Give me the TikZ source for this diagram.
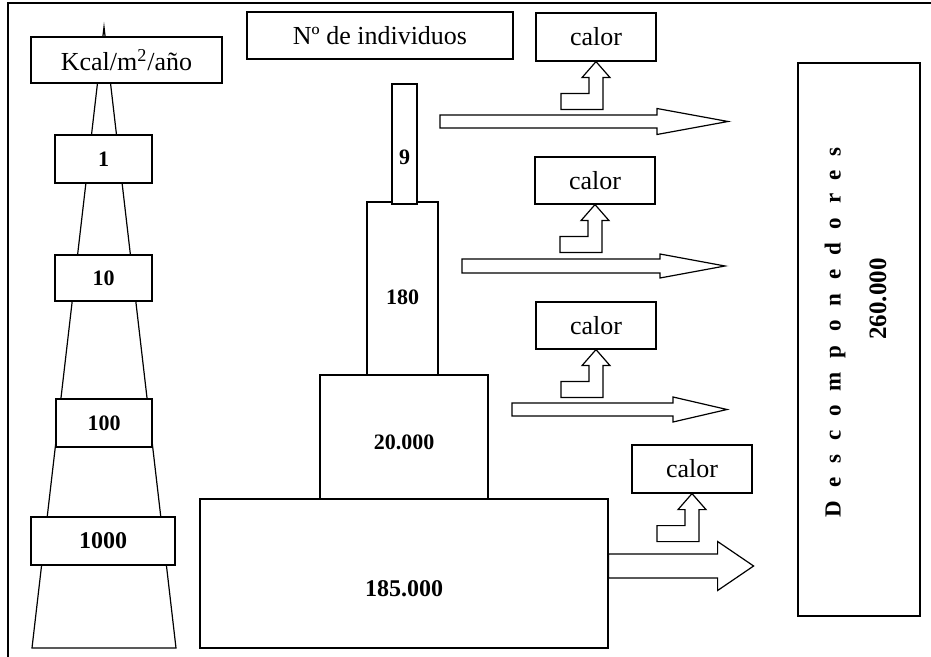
\documentclass[tikz,border=0pt]{standalone}
\usepackage{fontspec}
\setmainfont{Liberation Serif}
\newfontfamily\spacedfont[LetterSpace=60]{Liberation Serif}
\usepackage{tikz}
\usetikzlibrary{calc}

% block arrow: tail, length, half shaft, half head, head length
\newcommand{\flowarrow}[5]{%
  \draw[fill=white] (#1) -- ++(0,-#3) -- ++({#2-#5},0) -- ++(0,{#3-#4}) -- ++(#5,#4) -- ++(-#5,#4) -- ++(0,{#3-#4}) -- ++({#5-#2},0) -- cycle;}
% bent arrow up into a heat box
\newcommand{\heatarrow}[1]{%
  \draw[fill=white] (#1) -- ++(14,16) -- ++(-7,0) -- ++(0,32) -- ++(-42,0) -- ++(0,-16) -- ++(28,0) -- ++(0,-16) -- ++(-7,0) -- cycle;}

\begin{document}
\begin{tikzpicture}[x=0.5pt, y=-0.5pt, line width=0.6pt,
    box/.style={draw, fill=white, inner sep=1pt},
    txt/.style={font=\fontsize{13}{15}\selectfont},
    num/.style={font=\bfseries\fontsize{11}{13}\selectfont}]
        \useasboundingbox (0,0) rectangle (931,657);
        % Frame
        \draw (8,657) -- (8,3) -- (931,3);

        % Energy pyramid
        \draw (104,27) -- (32,648) -- (176,648) -- cycle;
        \node[box, txt, minimum width=95.5pt, minimum height=23pt] (kcal) at (126.5,60) {Kcal/m\textsuperscript{2}/año};
        \node[box, num, minimum width=48.5pt, minimum height=24pt] (e1) at (103.5,159) {1};
        \node[box, num, minimum width=48.5pt, minimum height=23pt] (e10) at (103.5,278) {10};
        \node[box, num, minimum width=48pt, minimum height=24pt] (e100) at (104,423) {100};
        \node[box, num, font=\bfseries\fontsize{12}{14}\selectfont, minimum width=72pt, minimum height=24pt] (e1000) at (103,541) {1000};

        % Numbers pyramid
        \node[box, txt, minimum width=133pt, minimum height=23.5pt] (ind) at (380,35.5) {Nº de individuos};
        \node[box, num, font=\bfseries\fontsize{12}{14}\selectfont, text height=23pt, text depth=0pt, minimum width=204pt, minimum height=74.5pt] (p185k) at (404,573.5) {185.000};
        \node[box, num, text height=12pt, text depth=0pt, minimum width=84pt, minimum height=62pt] (p20k) at (404,437) {20.000};
        \node[box, num, text height=16pt, text depth=0pt, minimum width=35.5pt, minimum height=86.5pt] (p180) at (402.5,288.5) {180};
        \node[box, num, text height=21pt, text depth=0pt, inner sep=0pt, minimum width=12.5pt, minimum height=60pt] (p9) at (404.5,144) {9};

        % Decomposers
        \node[box, minimum width=61pt, minimum height=276.5pt] (desc) at (859,339.5) {};
        \node[rotate=90, font=\spacedfont\bfseries\fontsize{11.5}{13}\selectfont] (desctxt) at (835,332.5) {Descomponedores};
        \node[rotate=90, font=\bfseries\fontsize{12.5}{14}\selectfont] (desnum) at (878,299) {260.000};

        % Heat boxes
        \node[box, txt, minimum width=60pt, minimum height=24pt] (calor1) at (596,37) {calor};
        \node[box, txt, minimum width=60pt, minimum height=23.5pt] (calor2) at (595,180.5) {calor};
        \node[box, txt, minimum width=60pt, minimum height=23.5pt] (calor3) at (596,325.5) {calor};
        \node[box, txt, minimum width=60pt, minimum height=24pt] (calor4) at (692,469) {calor};

        % Arrows
        \coordinate (t1) at (440,121.5);
        \coordinate (t2) at (462,266);
        \coordinate (t3) at (512,409.5);
        \coordinate (t4) at ($(p185k.east)+(0,-7.5)$);
        \flowarrow{t1}{288}{6.5}{13}{71}
        \flowarrow{t2}{263}{7}{12}{65}
        \flowarrow{t3}{215}{6.5}{12.5}{54}
        \flowarrow{t4}{145}{12}{24.5}{36}

        \heatarrow{calor1.south}
        \heatarrow{calor2.south}
        \heatarrow{calor3.south}
        \heatarrow{calor4.south}
    \end{tikzpicture}
\end{document}
